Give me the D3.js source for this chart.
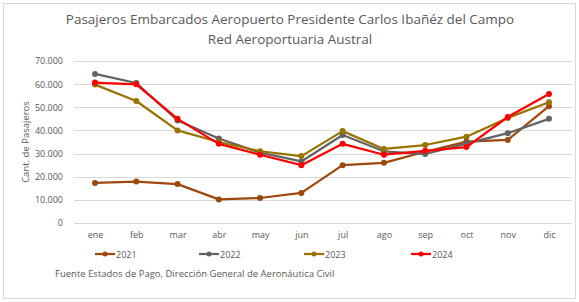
<!DOCTYPE html>
<html>
<head>
    <script src="https://cdnjs.cloudflare.com/ajax/libs/d3/7.8.5/d3.min.js"></script>
    <style>
        body { margin: 0; background: #fff; }
        text { font-family: 'Open Sans', 'Liberation Sans', sans-serif; fill: #595959; }
    </style>
</head>
<body>
    <div id="root"></div>
    <script>
        const months = ['ene', 'feb', 'mar', 'abr', 'may', 'jun', 'jul', 'ago', 'sep', 'oct', 'nov', 'dic']
        const years = ['2021', '2022', '2023', '2024']
        const v2021 = [17300, 17900, 16800, 10200, 10800, 13000, 25000, 26000, 30800, 35200, 35900, 50500]
        const v2022 = [64400, 60500, 44300, 36500, 30400, 26600, 38000, 31000, 29800, 34300, 38800, 45000]
        const v2023 = [59800, 52700, 40000, 35000, 31000, 28900, 39700, 32000, 33700, 37300, 45400, 52200]
        const v2024 = [60700, 59900, 45000, 34200, 29500, 25000, 34200, 29500, 31200, 32800, 45800, 55700]
        const yTicks = [0, 10000, 20000, 30000, 40000, 50000, 60000, 70000]
        const colors = ['#9E480E', '#636363', '#997300', '#FF0000']

        const w = 579
        const h = 302
        const series = [v2021, v2022, v2023, v2024]

        const svg = d3.select('#root').append('svg')
            .attr('width', w)
            .attr('height', h)

        // chart frame
        svg.append('rect')
            .attr('x', 3.5).attr('y', 3.5)
            .attr('width', w - 7).attr('height', h - 7)
            .attr('fill', '#fff')
            .attr('stroke', '#d9d9d9')

        const x = d3.scalePoint().domain(months).range([95, 549])
        const y = d3.scaleLinear().domain([0, 70000]).range([223, 61])

        const fmt = d => d === 0 ? '0' : d3.format(',')(d).replace(/,/g, '.')

        // gridlines
        svg.append('g').selectAll('line')
            .data(yTicks)
            .enter()
            .append('line')
            .attr('x1', 74).attr('x2', 572)
            .attr('y1', d => Math.round(y(d)) + 0.5)
            .attr('y2', d => Math.round(y(d)) + 0.5)
            .attr('stroke', '#d9d9d9')
            .attr('stroke-width', 1)

        const yAxis = svg.append('g')
            .attr('transform', 'translate(66,0)')
            .call(d3.axisLeft(y).tickValues(yTicks).tickFormat(fmt).tickSize(0).tickPadding(3))
        yAxis.select('.domain').remove()
        yAxis.selectAll('text').style('font-size', '9px').attr('fill', '#595959')

        const xAxis = svg.append('g')
            .attr('transform', 'translate(0,229)')
            .call(d3.axisBottom(x).tickSize(0).tickPadding(3))
        xAxis.select('.domain').remove()
        xAxis.selectAll('text').style('font-size', '9px').attr('fill', '#595959')

        // title
        svg.append('text')
            .attr('x', 290).attr('y', 24)
            .attr('text-anchor', 'middle')
            .style('font-size', '13.5px')
            .text('Pasajeros Embarcados Aeropuerto Presidente Carlos Ibañéz del Campo')
        svg.append('text')
            .attr('x', 290).attr('y', 44)
            .attr('text-anchor', 'middle')
            .style('font-size', '13.5px')
            .text('Red Aeroportuaria Austral')

        svg.append('text')
            .attr('transform', 'translate(29,142) rotate(-90)')
            .attr('text-anchor', 'middle')
            .style('font-size', '9.5px')
            .text('Cant. de Pasajeros')

        const line = d3.line()
            .x((d, i) => x(months[i]))
            .y(d => y(d))

        series.forEach((s, k) => {
            svg.append('path')
                .datum(s)
                .attr('d', line)
                .attr('fill', 'none')
                .attr('stroke', colors[k])
                .attr('stroke-width', 2.25)
                .attr('stroke-linejoin', 'round')
            svg.append('g').selectAll('circle')
                .data(s)
                .enter()
                .append('circle')
                .attr('cx', (d, i) => x(months[i]))
                .attr('cy', d => y(d))
                .attr('r', 3)
                .attr('fill', colors[k])
        })

        // legend
        const legendX = [95, 199, 304, 411]
        const lg = svg.append('g').selectAll('g')
            .data(years)
            .enter()
            .append('g')
            .attr('transform', (d, i) => `translate(${legendX[i]},254)`)
        lg.append('line')
            .attr('x1', 0).attr('x2', 20)
            .attr('stroke', (d, i) => colors[i])
            .attr('stroke-width', 2.25)
        lg.append('circle')
            .attr('cx', 10).attr('r', 2.5)
            .attr('fill', (d, i) => colors[i])
        lg.append('text')
            .attr('x', 21).attr('y', 3.5)
            .style('font-size', '9px')
            .text(d => d)

        svg.append('text')
            .attr('x', 55).attr('y', 277)
            .style('font-size', '9.5px')
            .text('Fuente Estados de Pago, Dirección General de Aeronáutica Civil')
    </script>
</body>
</html>
